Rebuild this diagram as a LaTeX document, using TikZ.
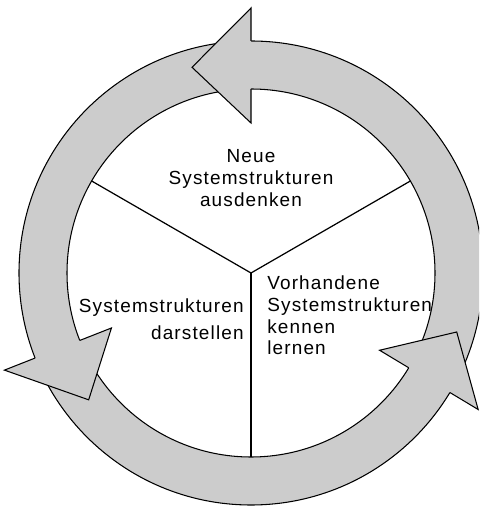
\documentclass[tikz,border=0pt]{standalone}
\usepackage{fontspec}
\setmainfont{Liberation Sans}[LetterSpace=6]

\begin{document}
\begin{tikzpicture}[scale=0.02,
    ring/.style={fill=gray!40,draw=black,line width=0.6pt},
    feld/.style={inner sep=0pt,font=\fontsize{10.8}{12.3}\selectfont}]
  \clip (-251,-234) rectangle (228,273);
  \coordinate (c) at (0,0);
  \filldraw[ring,even odd rule] (c) circle (232) (c) circle (184);
  \foreach \b/\t/\r in {90/106/214, 201.5/218/206, 329/344/214}
    \filldraw[ring,line join=miter]
      (\b:232) -- (\b:265) -- (\t:\r) -- (\b:150) -- (\b:184);
  \coordinate (ro) at (30:184);
  \coordinate (lo) at (150:184);
  \coordinate (un) at (270:184);
  \draw[line width=0.7pt] (ro) -- (c) -- (lo);
  \draw[line width=0.7pt] (c) -- (un);
  \node[feld,align=center] (neu) at (0,95)
    {Neue\\Systemstrukturen\\ausdenken};
  \node[feld,align=right,anchor=east,font=\fontsize{10.8}{15.4}\selectfont]
    (darst) at (-7,-46.5) {Systemstrukturen\\darstellen};
  \node[feld,align=left,anchor=west] (vorh) at (16,-42.5)
    {Vorhandene\\Systemstrukturen\\kennen\\lernen};
\end{tikzpicture}
\end{document}
